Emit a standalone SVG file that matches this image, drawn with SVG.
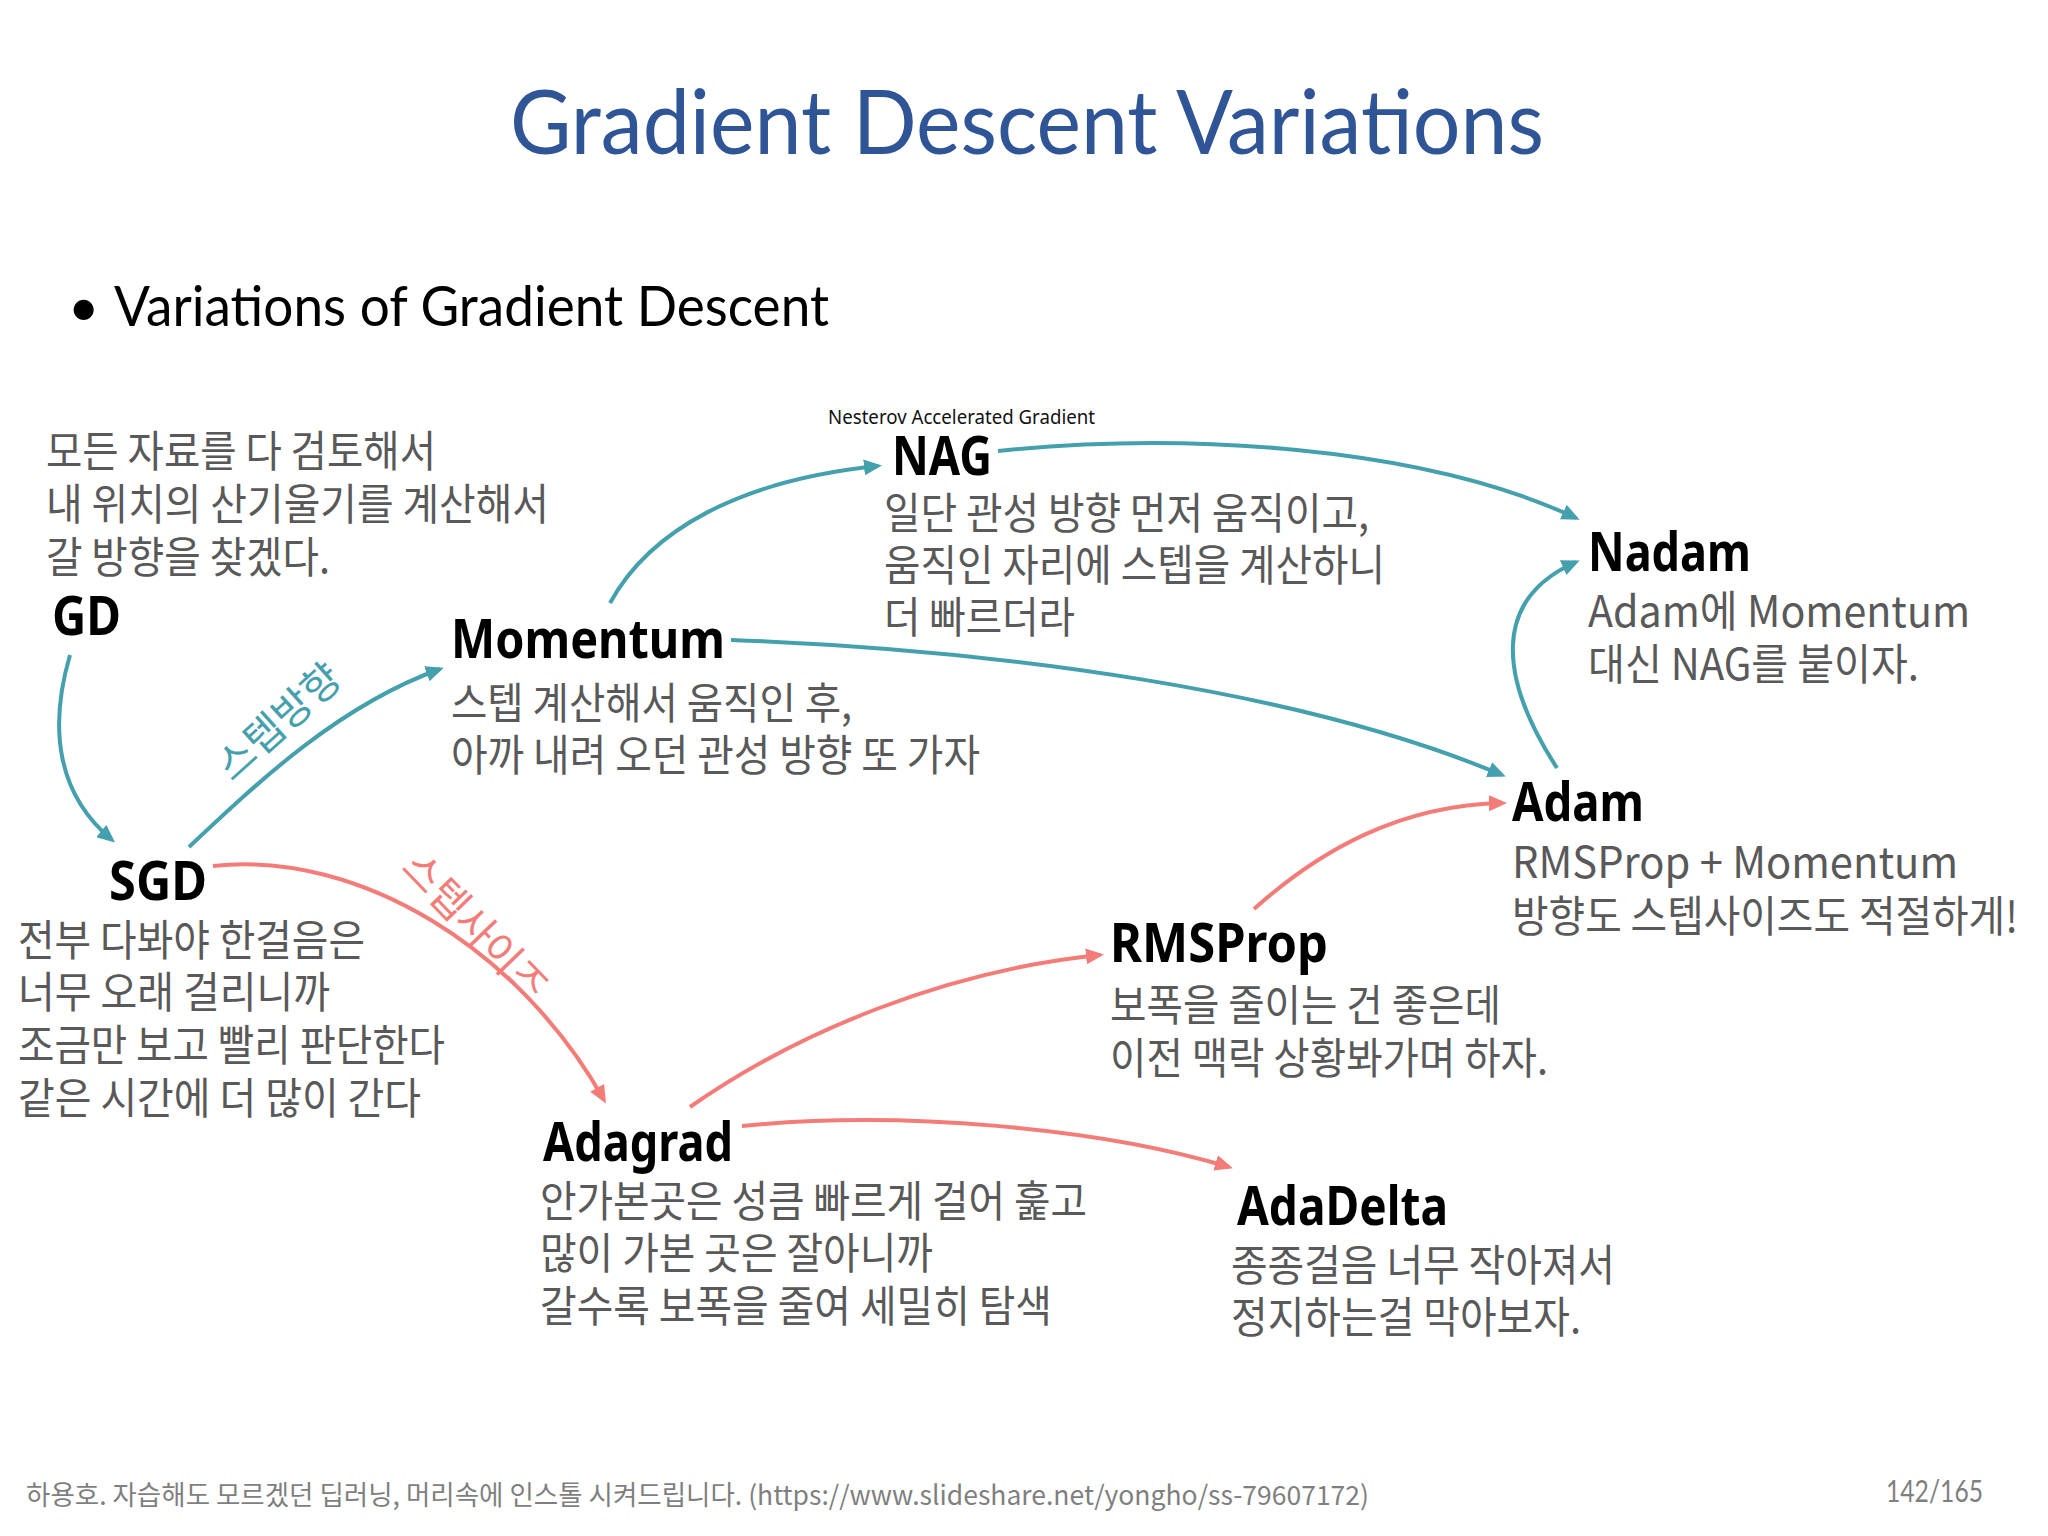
<svg xmlns="http://www.w3.org/2000/svg" width="2048" height="1536" viewBox="0 0 2048 1536">
<style>
.ttl{font-family:"Noto Sans","Liberation Sans",sans-serif;font-weight:700;font-size:53px;fill:#000}
.kr{font-family:"Noto Sans CJK KR","Noto Sans",sans-serif;font-size:43px;fill:#595959}
.t{stroke:#45A0AE;stroke-width:4;fill:none}
.r{stroke:#F47C78;stroke-width:4;fill:none}
</style>
<defs>
<marker id="aT" viewBox="0 0 18 16" refX="14" refY="8" markerWidth="18" markerHeight="16" orient="auto" markerUnits="userSpaceOnUse"><path d="M0 0 L18 8 L0 16 z" fill="#45A0AE"/></marker>
<marker id="aR" viewBox="0 0 18 16" refX="14" refY="8" markerWidth="18" markerHeight="16" orient="auto" markerUnits="userSpaceOnUse"><path d="M0 0 L18 8 L0 16 z" fill="#F47C78"/></marker>
</defs>
<rect width="2048" height="1536" fill="#fff"/>

<text x="510" y="154" font-family="Lato,'Open Sans',sans-serif" font-size="90" fill="#2F5597" textLength="1034" lengthAdjust="spacingAndGlyphs">Gradient Descent Variations</text>
<text x="68" y="326" font-family="Lato,sans-serif" font-size="54" fill="#000">•</text>
<text x="114" y="326" font-family="Lato,'Open Sans',sans-serif" font-size="56" fill="#000" textLength="715" lengthAdjust="spacingAndGlyphs">Variations of Gradient Descent</text>

<g id="connectors">
<path class="t" d="M70 655 C48 730 58 795 112 840" marker-end="url(#aT)"/>
<path class="t" d="M189 847 C260 780 340 705 440 669" marker-end="url(#aT)"/>
<path class="t" d="M610 603 C650 530 740 480 878 466" marker-end="url(#aT)"/>
<path class="t" d="M998 451 C1180 432 1420 445 1576 518" marker-end="url(#aT)"/>
<path class="t" d="M731 640 C1000 650 1300 690 1502 775" marker-end="url(#aT)"/>
<path class="t" d="M1557 768 C1500 680 1490 600 1576 562" marker-end="url(#aT)"/>
<path class="r" d="M213 866 C360 850 520 950 604 1100" marker-end="url(#aR)"/>
<path class="r" d="M690 1107 C800 1030 950 970 1100 955" marker-end="url(#aR)"/>
<path class="r" d="M742 1126 C900 1110 1100 1128 1229 1167" marker-end="url(#aR)"/>
<path class="r" d="M1254 909 C1320 850 1400 805 1503 803" marker-end="url(#aR)"/>
<text transform="translate(279,722) rotate(-42)" x="0" y="14" text-anchor="middle" font-family="'Noto Sans CJK KR',sans-serif" font-size="41" fill="#45A0AE">스텝방향</text>
<text transform="translate(475,927) rotate(46)" x="0" y="14" text-anchor="middle" font-family="'Noto Sans CJK KR',sans-serif" font-size="41" fill="#F47C78">스텝사이즈</text>
</g>

<g id="GD">
<text class="kr" x="46" y="467" textLength="390" lengthAdjust="spacingAndGlyphs">모든 자료를 다 검토해서</text>
<text class="kr" x="46" y="520" textLength="503" lengthAdjust="spacingAndGlyphs">내 위치의 산기울기를 계산해서</text>
<text class="kr" x="46" y="573" textLength="284" lengthAdjust="spacingAndGlyphs">갈 방향을 찾겠다.</text>
<text class="ttl" x="52" y="635" textLength="69" lengthAdjust="spacingAndGlyphs">GD</text>
</g>

<g id="SGD">
<text class="ttl" x="109" y="900" textLength="98" lengthAdjust="spacingAndGlyphs">SGD</text>
<text class="kr" x="18" y="956" textLength="347" lengthAdjust="spacingAndGlyphs">전부 다봐야 한걸음은</text>
<text class="kr" x="18" y="1008" textLength="312" lengthAdjust="spacingAndGlyphs">너무 오래 걸리니까</text>
<text class="kr" x="18" y="1061" textLength="427" lengthAdjust="spacingAndGlyphs">조금만 보고 빨리 판단한다</text>
<text class="kr" x="18" y="1114" textLength="403" lengthAdjust="spacingAndGlyphs">같은 시간에 더 많이 간다</text>
</g>

<g id="Momentum">
<text class="ttl" x="451" y="658" textLength="274" lengthAdjust="spacingAndGlyphs">Momentum</text>
<text class="kr" x="451" y="719" textLength="401" lengthAdjust="spacingAndGlyphs">스텝 계산해서 움직인 후,</text>
<text class="kr" x="451" y="771" textLength="529" lengthAdjust="spacingAndGlyphs">아까 내려 오던 관성 방향 또 가자</text>
</g>

<g id="NAG">
<text x="828" y="424" font-family="'Noto Sans','Liberation Sans',sans-serif" font-size="20" fill="#111" textLength="267" lengthAdjust="spacingAndGlyphs">Nesterov Accelerated Gradient</text>
<text class="ttl" x="892" y="475" textLength="100" lengthAdjust="spacingAndGlyphs">NAG</text>
<text class="kr" x="884" y="529" textLength="485" lengthAdjust="spacingAndGlyphs">일단 관성 방향 먼저 움직이고,</text>
<text class="kr" x="884" y="581" textLength="501" lengthAdjust="spacingAndGlyphs">움직인 자리에 스텝을 계산하니</text>
<text class="kr" x="884" y="633" textLength="191" lengthAdjust="spacingAndGlyphs">더 빠르더라</text>
</g>

<g id="Nadam">
<text class="ttl" x="1588" y="571" textLength="163" lengthAdjust="spacingAndGlyphs">Nadam</text>
<text class="kr" x="1588" y="627" textLength="382" lengthAdjust="spacingAndGlyphs">Adam에 Momentum</text>
<text class="kr" x="1588" y="680" textLength="331" lengthAdjust="spacingAndGlyphs">대신 NAG를 붙이자.</text>
</g>

<g id="Adam">
<text class="ttl" x="1512" y="821" textLength="132" lengthAdjust="spacingAndGlyphs">Adam</text>
<text class="kr" x="1512" y="878" textLength="446" lengthAdjust="spacingAndGlyphs">RMSProp + Momentum</text>
<text class="kr" x="1512" y="932" textLength="506" lengthAdjust="spacingAndGlyphs">방향도 스텝사이즈도 적절하게!</text>
</g>

<g id="RMSProp">
<text class="ttl" x="1110" y="962" textLength="218" lengthAdjust="spacingAndGlyphs">RMSProp</text>
<text class="kr" x="1110" y="1021" textLength="391" lengthAdjust="spacingAndGlyphs">보폭을 줄이는 건 좋은데</text>
<text class="kr" x="1110" y="1074" textLength="438" lengthAdjust="spacingAndGlyphs">이전 맥락 상황봐가며 하자.</text>
</g>

<g id="Adagrad">
<text class="ttl" x="543" y="1161" textLength="190" lengthAdjust="spacingAndGlyphs">Adagrad</text>
<text class="kr" x="540" y="1217" textLength="547" lengthAdjust="spacingAndGlyphs">안가본곳은 성큼 빠르게 걸어 훑고</text>
<text class="kr" x="540" y="1269" textLength="393" lengthAdjust="spacingAndGlyphs">많이 가본 곳은 잘아니까</text>
<text class="kr" x="540" y="1322" textLength="512" lengthAdjust="spacingAndGlyphs">갈수록 보폭을 줄여 세밀히 탐색</text>
</g>

<g id="AdaDelta">
<text class="ttl" x="1237" y="1225" textLength="211" lengthAdjust="spacingAndGlyphs">AdaDelta</text>
<text class="kr" x="1231" y="1281" textLength="384" lengthAdjust="spacingAndGlyphs">종종걸음 너무 작아져서</text>
<text class="kr" x="1231" y="1333" textLength="350" lengthAdjust="spacingAndGlyphs">정지하는걸 막아보자.</text>
</g>

<text x="26" y="1505" font-family="'Noto Sans CJK KR','Noto Sans',sans-serif" font-size="27" fill="#7F7F7F" textLength="1343" lengthAdjust="spacingAndGlyphs">하용호. 자습해도 모르겠던 딥러닝, 머리속에 인스톨 시켜드립니다. (https://www.slideshare.net/yongho/ss-79607172)</text>
<text x="1886" y="1502" font-family="Lato,'Open Sans',sans-serif" font-size="30" fill="#7F7F7F" textLength="97" lengthAdjust="spacingAndGlyphs">142/165</text>
</svg>
